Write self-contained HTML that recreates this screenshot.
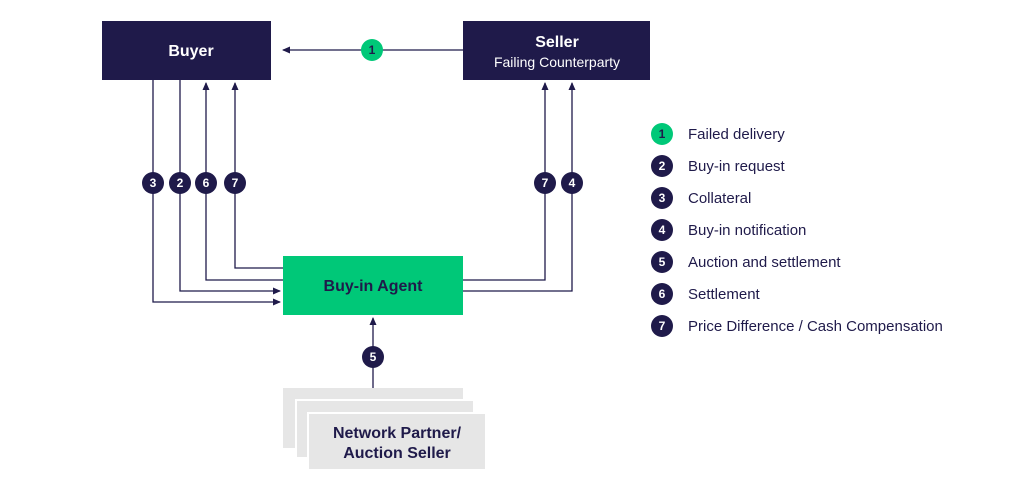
<!DOCTYPE html>
<html><head><style>
body{margin:0;background:#fff;width:1024px;height:495px;overflow:hidden;font-family:"Liberation Sans",sans-serif}
</style></head><body>
<svg width="1024" height="495" xmlns="http://www.w3.org/2000/svg" font-family="Liberation Sans, sans-serif">
<defs><marker id="a" markerWidth="8" markerHeight="8" refX="7" refY="4" orient="auto" markerUnits="userSpaceOnUse"><path d="M0,0.5 L8,4 L0,7.5z" fill="#1f1a4a"/></marker></defs>
<rect x="102" y="21" width="169" height="59" fill="#1f1a4a"/>
<text x="191" y="56" fill="#fff" font-size="16" font-weight="bold" text-anchor="middle">Buyer</text>
<rect x="463" y="21" width="187" height="59" fill="#1f1a4a"/>
<text x="557" y="47" fill="#fff" font-size="16" font-weight="bold" text-anchor="middle">Seller</text>
<text x="557" y="67" fill="#fff" font-size="14" text-anchor="middle">Failing Counterparty</text>
<g stroke="#1f1a4a" stroke-width="1.3" fill="none">
<line x1="463" y1="50" x2="283" y2="50" marker-end="url(#a)"/>
<polyline points="153,80 153,302 280,302" marker-end="url(#a)"/>
<polyline points="180,80 180,291 280,291" marker-end="url(#a)"/>
<polyline points="283,280 206,280 206,83" marker-end="url(#a)"/>
<polyline points="283,268 235,268 235,83" marker-end="url(#a)"/>
<polyline points="463,280 545,280 545,83" marker-end="url(#a)"/>
<polyline points="463,291 572,291 572,83" marker-end="url(#a)"/>
<line x1="373" y1="388" x2="373" y2="318" marker-end="url(#a)"/>
</g>
<rect x="283" y="256" width="180" height="59" fill="#00c878"/>
<text x="373" y="291" fill="#1f1a4a" font-size="16" font-weight="bold" text-anchor="middle">Buy-in Agent</text>
<rect x="283" y="388" width="180" height="60" fill="#e6e6e6"/>
<rect x="296" y="400" width="178" height="58" fill="#e6e6e6" stroke="#fff" stroke-width="2"/>
<rect x="308" y="413" width="178" height="57" fill="#e6e6e6" stroke="#fff" stroke-width="2"/>
<text x="397" y="438" fill="#1f1a4a" font-size="16" font-weight="bold" text-anchor="middle">Network Partner/</text>
<text x="397" y="458" fill="#1f1a4a" font-size="16" font-weight="bold" text-anchor="middle">Auction Seller</text>
<g font-size="12" font-weight="bold" text-anchor="middle" fill="#fff">
<circle cx="372" cy="50" r="11" fill="#00c878"/><text x="372" y="54" fill="#1f1a4a">1</text>
<circle cx="153" cy="183" r="11" fill="#1f1a4a"/><text x="153" y="187">3</text>
<circle cx="180" cy="183" r="11" fill="#1f1a4a"/><text x="180" y="187">2</text>
<circle cx="206" cy="183" r="11" fill="#1f1a4a"/><text x="206" y="187">6</text>
<circle cx="235" cy="183" r="11" fill="#1f1a4a"/><text x="235" y="187">7</text>
<circle cx="545" cy="183" r="11" fill="#1f1a4a"/><text x="545" y="187">7</text>
<circle cx="572" cy="183" r="11" fill="#1f1a4a"/><text x="572" y="187">4</text>
<circle cx="373" cy="357" r="11" fill="#1f1a4a"/><text x="373" y="361">5</text>
<circle cx="662" cy="134" r="11" fill="#00c878"/><text x="662" y="138" fill="#1f1a4a">1</text>
<circle cx="662" cy="166" r="11" fill="#1f1a4a"/><text x="662" y="170">2</text>
<circle cx="662" cy="198" r="11" fill="#1f1a4a"/><text x="662" y="202">3</text>
<circle cx="662" cy="230" r="11" fill="#1f1a4a"/><text x="662" y="234">4</text>
<circle cx="662" cy="262" r="11" fill="#1f1a4a"/><text x="662" y="266">5</text>
<circle cx="662" cy="294" r="11" fill="#1f1a4a"/><text x="662" y="298">6</text>
<circle cx="662" cy="326" r="11" fill="#1f1a4a"/><text x="662" y="330">7</text>
</g>
<g font-size="15" fill="#1f1a4a">
<text x="688" y="139">Failed delivery</text>
<text x="688" y="171">Buy-in request</text>
<text x="688" y="203">Collateral</text>
<text x="688" y="235">Buy-in notification</text>
<text x="688" y="267">Auction and settlement</text>
<text x="688" y="299">Settlement</text>
<text x="688" y="331">Price Difference / Cash Compensation</text>
</g>
</svg>
</body></html>
